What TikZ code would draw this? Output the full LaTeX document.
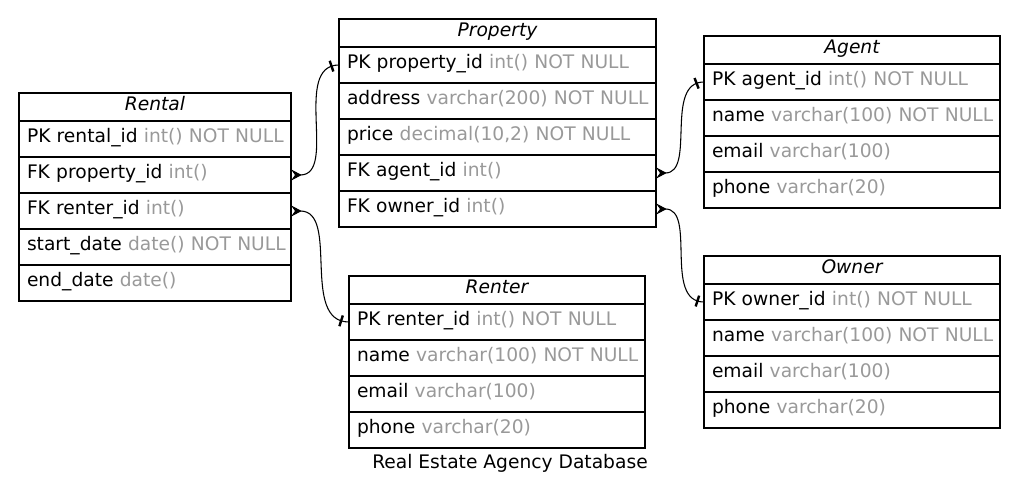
\documentclass[tikz,border=0pt]{standalone}
\usepackage{fontspec}
\setmainfont{DejaVu Sans}
\usetikzlibrary{positioning,arrows.meta}

\definecolor{typegray}{HTML}{999999}
\newcommand{\ty}[1]{\textcolor{typegray}{#1}}

\begin{document}
\begin{tikzpicture}[x=0.75pt, y=-0.75pt,
  font=\fontsize{14}{17}\selectfont,
  tbl/.style = {draw, rectangle, line width=0.8pt, inner xsep=6pt, inner ysep=0pt,
                outer sep=0pt, text width=#1, text height=9.4pt, text depth=4pt},
  head/.style = {tbl=#1, minimum height=21pt, align=center, font=\fontsize{14}{17}\selectfont\itshape},
  row/.style = {tbl=#1, minimum height=27pt, align=left,
                execute at begin node=\hbox\bgroup, execute at end node=\egroup},
  link/.style = {{Stealth[reversed, length=8pt, width=8.5pt, inset=3pt]}-, line width=0.8pt},
  tee/.style = {fill, inner sep=0pt, minimum width=1.8pt, minimum height=8.5pt}]
\useasboundingbox (0,0) rectangle (1020,498);

% Rental
\node[head=192pt, anchor=north west] (rental) at (19,93) {Rental};
\node[row=192pt, below=0pt of rental] (rental-pk) {PK rental\_id \ty{int() NOT NULL}};
\node[row=192pt, below=0pt of rental-pk] (rental-prop) {FK property\_id \ty{int()}};
\node[row=192pt, below=0pt of rental-prop] (rental-renter) {FK renter\_id \ty{int()}};
\node[row=192pt, below=0pt of rental-renter] (rental-start) {start\_date \ty{date() NOT NULL}};
\node[row=192pt, below=0pt of rental-start] (rental-end) {end\_date \ty{date()}};

% Property
\node[head=225.75pt, anchor=north west] (property) at (339,19) {Property};
\node[row=225.75pt, below=0pt of property] (property-pk) {PK property\_id \ty{int() NOT NULL}};
\node[row=225.75pt, below=0pt of property-pk] (property-addr) {address \ty{varchar(200) NOT NULL}};
\node[row=225.75pt, below=0pt of property-addr] (property-price) {price \ty{decimal(10,2) NOT NULL}};
\node[row=225.75pt, below=0pt of property-price] (property-agent) {FK agent\_id \ty{int()}};
\node[row=225.75pt, below=0pt of property-agent] (property-owner) {FK owner\_id \ty{int()}};

% Agent
\node[head=210pt, anchor=north west] (agent) at (704,36) {Agent};
\node[row=210pt, below=0pt of agent] (agent-pk) {PK agent\_id \ty{int() NOT NULL}};
\node[row=210pt, below=0pt of agent-pk] (agent-name) {name \ty{varchar(100) NOT NULL}};
\node[row=210pt, below=0pt of agent-name] (agent-email) {email \ty{varchar(100)}};
\node[row=210pt, below=0pt of agent-email] (agent-phone) {phone \ty{varchar(20)}};

% Owner
\node[head=210pt, anchor=north west] (owner) at (704,256) {Owner};
\node[row=210pt, below=0pt of owner] (owner-pk) {PK owner\_id \ty{int() NOT NULL}};
\node[row=210pt, below=0pt of owner-pk] (owner-name) {name \ty{varchar(100) NOT NULL}};
\node[row=210pt, below=0pt of owner-name] (owner-email) {email \ty{varchar(100)}};
\node[row=210pt, below=0pt of owner-email] (owner-phone) {phone \ty{varchar(20)}};

% Renter
\node[head=210pt, anchor=north west] (renter) at (349,276) {Renter};
\node[row=210pt, below=0pt of renter] (renter-pk) {PK renter\_id \ty{int() NOT NULL}};
\node[row=210pt, below=0pt of renter-pk] (renter-name) {name \ty{varchar(100) NOT NULL}};
\node[row=210pt, below=0pt of renter-name] (renter-email) {email \ty{varchar(100)}};
\node[row=210pt, below=0pt of renter-email] (renter-phone) {phone \ty{varchar(20)}};

% relations
\draw[link] (rental-prop.east) to[out=0, in=180] node[tee, pos=0.94, sloped] {} (property-pk.west);
\draw[link] (rental-renter.east) to[out=0, in=180] node[tee, pos=0.94, sloped] {} (renter-pk.west);
\draw[link] (property-agent.east) to[out=0, in=180] node[tee, pos=0.93, sloped] {} (agent-pk.west);
\draw[link] (property-owner.east) to[out=0, in=180] node[tee, pos=0.94, sloped] {} (owner-pk.west);

\node[anchor=base] (caption) at (510,468) {Real Estate Agency Database};
\end{tikzpicture}
\end{document}
